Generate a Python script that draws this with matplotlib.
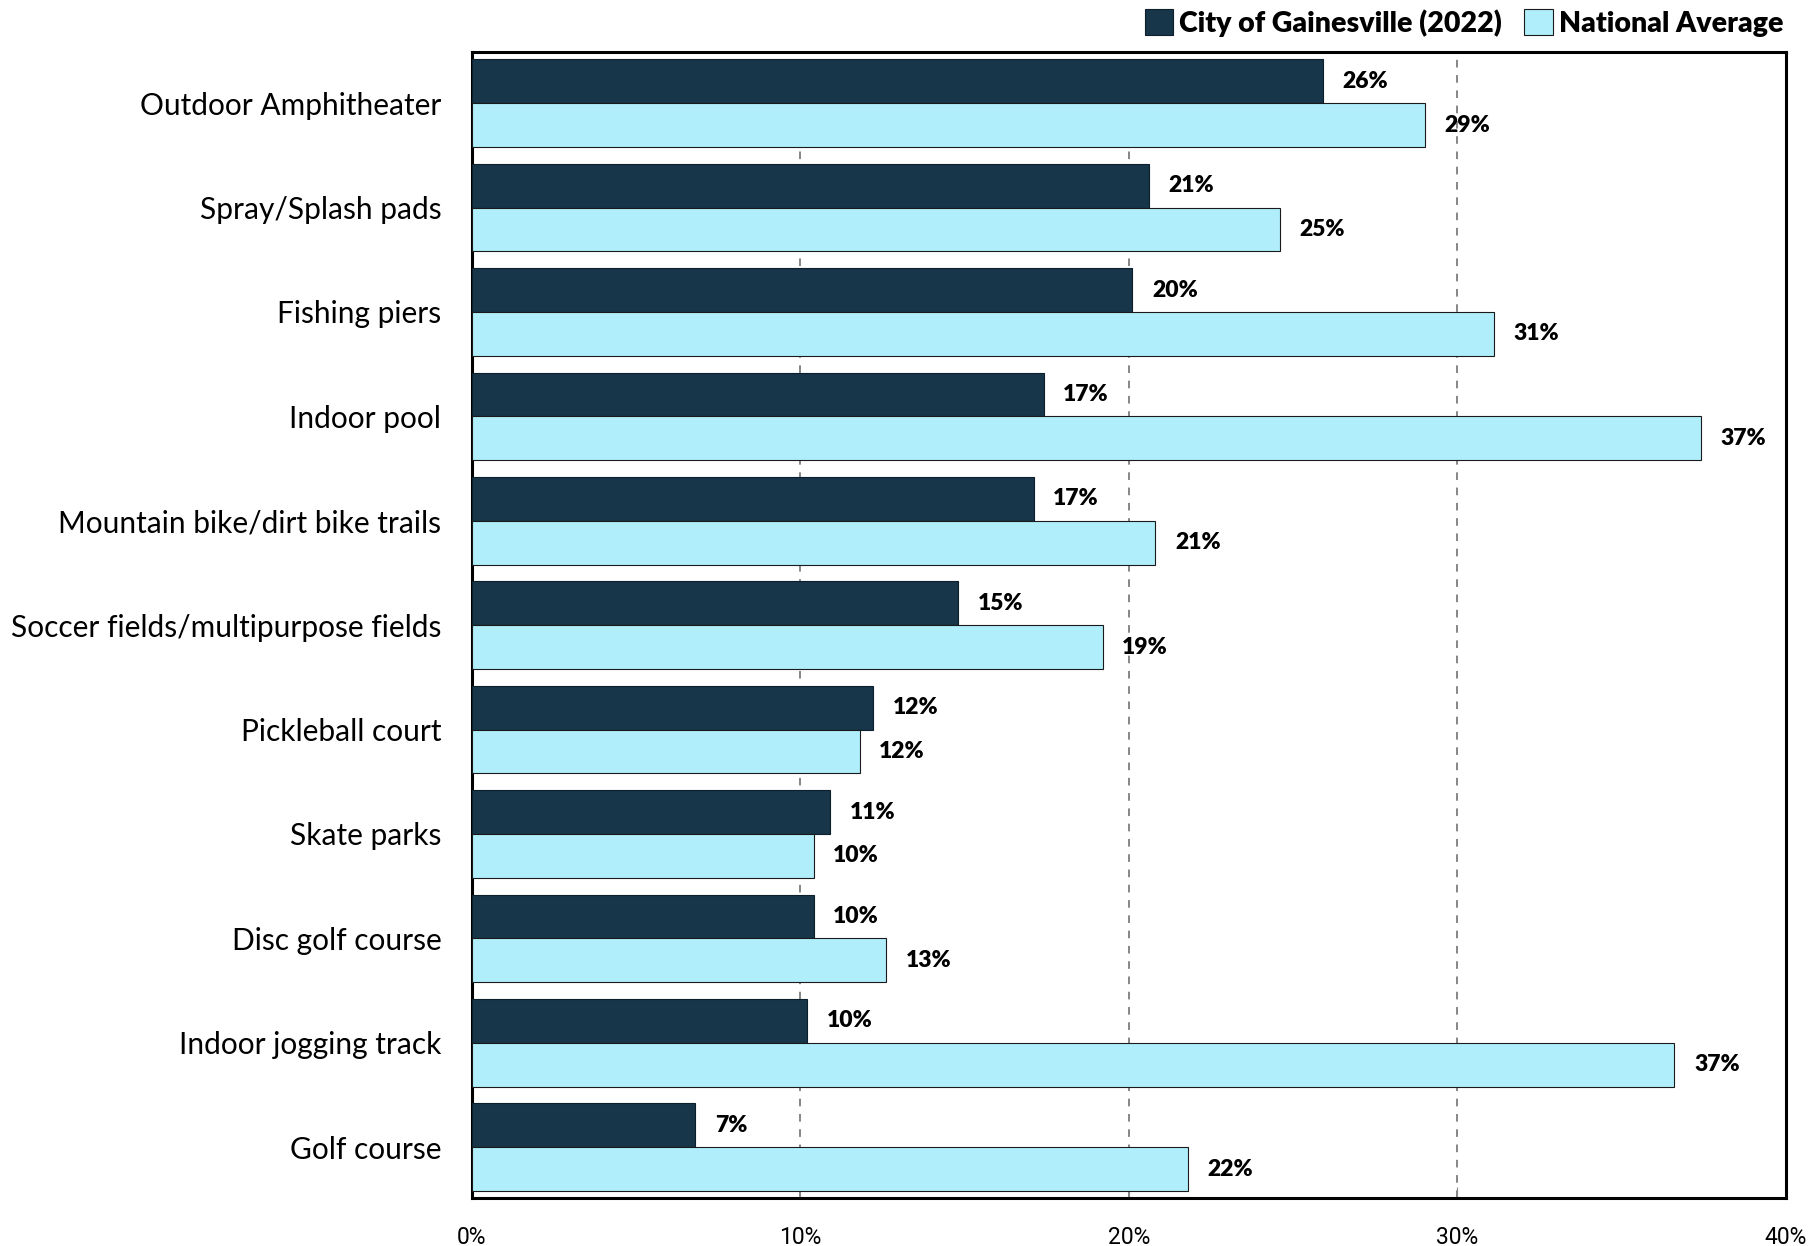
import numpy as np
import matplotlib.pyplot as plt
from matplotlib import font_manager


CATEGORIES = ['Outdoor Amphitheater', 'Spray/Splash pads', 'Fishing piers',
              'Indoor pool', 'Mountain bike/dirt bike trails',
              'Soccer fields/multipurpose fields', 'Pickleball court',
              'Skate parks', 'Disc golf course', 'Indoor jogging track',
              'Golf course']

GAINESVILLE = [25.9, 20.6, 20.1, 17.4, 17.1, 14.8, 12.2, 10.9, 10.4, 10.2, 6.8]
NATIONAL = [29.0, 24.6, 31.1, 37.4, 20.8, 19.2, 11.8, 10.4, 12.6, 36.6, 21.8]

SERIES_NAMES = ['City of Gainesville (2022)', 'National Average']
X_TICKS = [0, 10, 20, 30, 40]

DARK = '#17364a'
LIGHT = '#b0eefc'


def pick_font(names):
    have = {f.name for f in font_manager.fontManager.ttflist}
    for n in names:
        if n in have:
            return n
    return 'DejaVu Sans'


main_font = pick_font(['Lato', 'Open Sans', 'DejaVu Sans'])
narrow_font = pick_font(['Liberation Sans Narrow', 'Roboto', 'DejaVu Sans'])
plt.rcParams['font.family'] = [main_font, 'DejaVu Sans']


def main():
    fig = plt.figure(figsize=(18.15, 12.46), dpi=100)
    ax = fig.add_axes([0.260, 0.0385, 0.724, 0.9195])

    y = np.arange(len(CATEGORIES))
    h = 0.42
    ax.barh(y - h / 2, GAINESVILLE, height=h, color=DARK, edgecolor='#0d1f2b',
            linewidth=0.8, label=SERIES_NAMES[0], zorder=3)
    ax.barh(y + h / 2, NATIONAL, height=h, color=LIGHT, edgecolor='#1a1a1a',
            linewidth=0.8, label=SERIES_NAMES[1], zorder=3)

    for yi, v in zip(y, GAINESVILLE):
        ax.text(v + 0.6, yi - h / 2, f'{round(v)}%', va='center', ha='left',
                fontsize=16.5, fontweight='heavy', zorder=4)
    for yi, v in zip(y, NATIONAL):
        ax.text(v + 0.6, yi + h / 2, f'{round(v)}%', va='center', ha='left',
                fontsize=16.5, fontweight='heavy', zorder=4)

    ax.set_xlim(0, 40)
    m = 0.487
    ax.set_ylim(len(CATEGORIES) - 1 + m, -m)
    ax.set_yticks(y)
    ax.set_yticklabels(CATEGORIES, fontsize=21.5)
    ax.tick_params(axis='y', length=0, pad=22)
    ax.set_xticks(X_TICKS)
    ax.set_xticklabels([f'{t}%' for t in X_TICKS], fontsize=16.5,
                       family=narrow_font)
    ax.tick_params(axis='x', direction='in', length=8, pad=20, color='#888888')

    for t in X_TICKS[1:-1]:
        ax.axvline(t, color='#666666', linestyle=(0, (5, 5)), linewidth=1.1,
                   zorder=1)

    for s in ax.spines.values():
        s.set_linewidth(2.2)
        s.set_color('black')

    handles, labels = ax.get_legend_handles_labels()
    fig.legend(handles, labels, loc='upper right',
               bbox_to_anchor=(0.984, 0.995), ncol=2,
               frameon=False, prop={'weight': 'heavy', 'size': 20.5},
               handlelength=1.0, handleheight=1.0, handletextpad=0.2,
               columnspacing=0.8, borderaxespad=0.0, borderpad=0.1)

    fig.savefig('out.png', dpi=100)


if __name__ == '__main__':
    main()
